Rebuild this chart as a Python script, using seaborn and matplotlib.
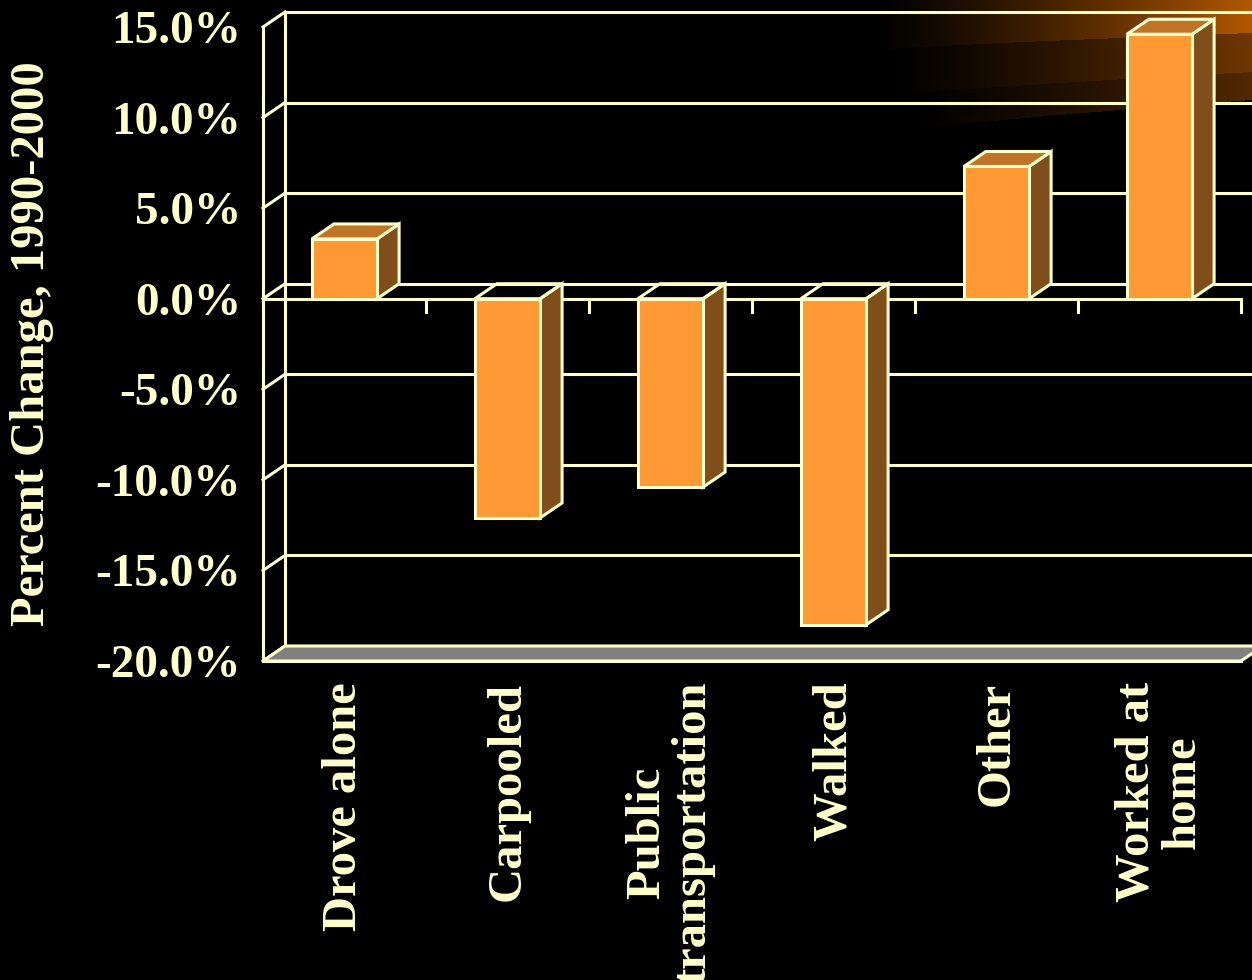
import numpy as np
import pandas as pd
import matplotlib
matplotlib.use("Agg")
import matplotlib.pyplot as plt
import seaborn as sns
from matplotlib.patches import Polygon
from matplotlib.lines import Line2D
from matplotlib.transforms import IdentityTransform

# ---------------- data ----------------
categories = ["Drove alone", "Carpooled", "Public\ntransportation",
              "Walked", "Other", "Worked at\nhome"]
pct_change = [3.3, -12.1, -10.4, -18.0, 7.3, 14.6]
y_ticks = [-20, -15, -10, -5, 0, 5, 10, 15]
y_tick_labels = ["-20.0%", "-15.0%", "-10.0%", "-5.0%",
                 "0.0%", "5.0%", "10.0%", "15.0%"]
y_label = "Percent Change, 1990-2000"

# ---------------- style ----------------
BG = "black"
LINE = "#FFFFCC"
FRONT = "#FF9933"
TOP = "#C07428"
SIDE = "#804E1A"
FLOOR = "#808080"
LW = 2.2
DX, DY = 22, 15          # 3-D depth offset in pixels

sns.set_style("dark", rc={"axes.facecolor": "none", "figure.facecolor": BG,
                          "axes.edgecolor": LINE, "text.color": LINE,
                          "xtick.color": LINE, "ytick.color": LINE,
                          "axes.labelcolor": LINE})
plt.rcParams["font.family"] = ["Liberation Serif", "DejaVu Serif"]
plt.rcParams["font.weight"] = "bold"

W, H, DPI = 1252, 980, 100
fig = plt.figure(figsize=(W / DPI, H / DPI), dpi=DPI, facecolor=BG)

# ---------------- background glow (decoration) ----------------
bg = fig.add_axes([0, 0, 1, 1], zorder=-10)
bg.set_xlim(0, W)
bg.set_ylim(H, 0)
bg.axis("off")
xs = np.arange(850, W) + 0.5
ys = np.arange(0, 150) + 0.5
X, Y = np.meshgrid(xs, ys)
u = np.clip((X - 880) / (W - 880), 0, 1)
b1 = 50 - 17 * u ** 0.8
b2 = 97 - 25 * u ** 0.8
b3 = 132 - 32 * np.clip((X - 900) / (W - 900), 0, 1) ** 0.8
level = np.where(Y < b1, 1.0, np.where(Y < b2, 0.62, np.where(Y < b3, 0.46, 0.0)))
start = np.where(Y < b1, 870, np.where(Y < b2, 885, 905))
t = np.clip((X - start) / (W - start), 0, 1) ** 1.25
inten = level * t
rgb = inten[..., None] * np.array([178, 88, 0]) / 255.0
bg.imshow(rgb, extent=(850, W, 150, 0), interpolation="bilinear", aspect="auto")

# ---------------- main axes ----------------
ax = fig.add_axes([263 / W, (H - 661) / H, 978 / W, 634 / H])
ax.set_facecolor("none")

df = pd.DataFrame({"mode": categories, "change": pct_change})
sns.barplot(data=df, x="mode", y="change", color=FRONT, saturation=1,
            width=0.4, edgecolor=LINE, linewidth=LW, ax=ax, zorder=6)

XMIN, XMAX = -0.5, len(categories) - 0.5
YMIN, YMAX = y_ticks[0], y_ticks[-1]
ax.set_xlim(XMIN, XMAX)
ax.set_ylim(YMIN, YMAX)
fig.canvas.draw()


def disp(x, y):
    return ax.transData.transform((x, y))


def back(p):
    return p + np.array([DX, DY])


def add_line(p, q, z=1):
    ax.add_line(Line2D([p[0], q[0]], [p[1], q[1]], transform=IdentityTransform(),
                       color=LINE, lw=LW, clip_on=False, zorder=z,
                       solid_capstyle="projecting"))


def add_poly(pts, fc, z):
    ax.add_patch(Polygon(np.array(pts), closed=True, transform=IdentityTransform(),
                         facecolor=fc, edgecolor=LINE, lw=LW, clip_on=False,
                         zorder=z, joinstyle="miter"))


# back wall gridlines and left wall diagonals
for yv in y_ticks:
    add_line(back(disp(XMIN, yv)), back(disp(XMAX, yv)), z=1)
    add_line(disp(XMIN, yv), back(disp(XMIN, yv)), z=1)
add_line(back(disp(XMIN, YMIN)), back(disp(XMIN, YMAX)), z=1)

# floor
add_poly([disp(XMIN, YMIN), disp(XMAX, YMIN),
          back(disp(XMAX, YMIN)), back(disp(XMIN, YMIN))], FLOOR, 2)

# front zero line with category ticks
ax.axhline(0, color=LINE, lw=LW, zorder=3)
for b in np.arange(XMIN + 1, XMAX + 0.01, 1.0):
    p = disp(b, 0)
    add_line(p, p - np.array([0, 13]), z=3)

# 3-D sides and tops for bars
for p in list(ax.patches):
    if not isinstance(p, matplotlib.patches.Rectangle):
        continue
    x0, w = p.get_x(), p.get_width()
    y0, h = p.get_y(), p.get_height()
    top, bot = max(y0, y0 + h), min(y0, y0 + h)
    add_poly([disp(x0 + w, top), disp(x0 + w, bot),
              back(disp(x0 + w, bot)), back(disp(x0 + w, top))], SIDE, 5)
    add_poly([disp(x0, top), disp(x0 + w, top),
              back(disp(x0 + w, top)), back(disp(x0, top))],
             TOP if h > 0 else "none", 5)

# spines & ticks
for s in ["top", "right"]:
    ax.spines[s].set_visible(False)
for s in ["left", "bottom"]:
    ax.spines[s].set_color(LINE)
    ax.spines[s].set_linewidth(LW)
    ax.spines[s].set_zorder(4)

ax.set_yticks(y_ticks)
ax.set_yticklabels(y_tick_labels, fontsize=34, fontweight="bold", color=LINE)
ax.tick_params(axis="y", direction="out", length=9.4, width=LW, color=LINE, pad=6.5)

ax.set_xticks(np.arange(XMIN, XMAX + 0.01, 1.0))
ax.set_xticklabels([""] * (len(categories) + 1))
ax.set_xticks(np.arange(len(categories)), minor=True)
ax.set_xticklabels(categories, minor=True, rotation=90, ha="center", va="top",
                   multialignment="center", fontsize=35, fontweight="bold",
                   color=LINE, linespacing=1.05)
ax.tick_params(axis="x", which="major", direction="out", length=10, width=LW,
               color=LINE)
ax.tick_params(axis="x", which="minor", length=0, pad=15)
ax.set_xlabel("")

ax.set_ylabel(y_label, fontsize=35, fontweight="bold", color=LINE)
ax.yaxis.set_label_coords(-0.236, 0.5)
ax.yaxis.label.set_va("center")
ax.grid(False)

ax.set_xlim(XMIN, XMAX)
ax.set_ylim(YMIN, YMAX)

fig.savefig("out.png", dpi=DPI, facecolor=BG)
